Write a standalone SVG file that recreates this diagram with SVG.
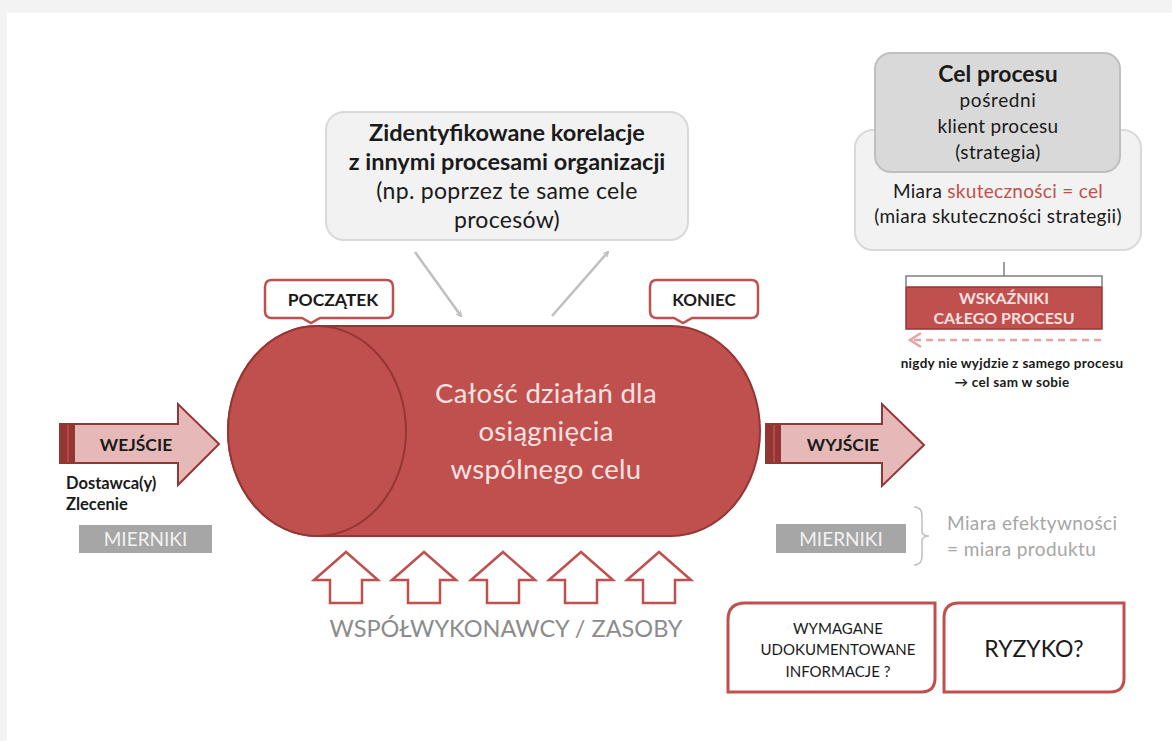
<svg xmlns="http://www.w3.org/2000/svg" width="1172" height="741" viewBox="0 0 1172 741">
<style>
text{font-family:Lato,"Open Sans","Liberation Sans",sans-serif}
.b{font-weight:bold}
.dark{fill:#1a1a1a}
.gbox{fill:#f2f2f2;stroke:#d9d9d9;stroke-width:2}
.call{fill:#fff;stroke:#c0504d;stroke-width:2.5}
.red3{fill:#fff;stroke:#c0504d;stroke-width:3}
.mier{fill:#a6a6a6}
.mtxt{fill:#f2f2f2;font-size:19px}
.grayline{stroke:#bfbfbf;stroke-width:2.5;fill:none}
.bigarrow{fill:#e6b9b8;stroke:#943634;stroke-width:2}
.uparrow{fill:#fff;stroke:#c0504d;stroke-width:2.5}
</style>
<defs>
<marker id="ga" viewBox="0 0 10 10" refX="8" refY="5" markerWidth="6" markerHeight="6" orient="auto" markerUnits="userSpaceOnUse">
<path d="M0,0 L9,5 L0,10" fill="none" stroke="#bfbfbf" stroke-width="2"/>
</marker>
</defs>
<rect x="0" y="0" width="1172" height="741" fill="#f3f3f3"/>
<rect x="7" y="13" width="1165" height="728" fill="#fff"/>

<g id="connectors">
<line class="grayline" x1="415" y1="252" x2="461" y2="316" marker-end="url(#ga)"/>
<line class="grayline" x1="552" y1="316" x2="608" y2="252" marker-end="url(#ga)"/>
<line x1="1004" y1="262" x2="1004" y2="276" stroke="#7f7f7f" stroke-width="1.5"/>
<path d="M906,286 L906,276 L1102,276 L1102,286" fill="none" stroke="#7f7f7f" stroke-width="1.5"/>
<line x1="1101" y1="340" x2="912" y2="340" stroke="#e6a3a1" stroke-width="2.5" stroke-dasharray="7,5"/>
<path d="M921,333 L910,340 L921,347" fill="none" stroke="#e6a3a1" stroke-width="2.5"/>
<path d="M914,507 Q922,507 922,516 L922,531 Q922,536 929,536 Q922,536 922,541 L922,556 Q922,565 914,565" fill="none" stroke="#bfbfbf" stroke-width="1.5"/>
</g>

<g id="korelacje">
<rect class="gbox" x="326" y="112" width="362" height="128" rx="18"/>
<text x="507" y="141" text-anchor="middle" class="b dark" font-size="23.5">Zidentyfikowane korelacje</text>
<text x="507" y="170" text-anchor="middle" class="b dark" font-size="23.5">z innymi procesami organizacji</text>
<text x="507" y="199" text-anchor="middle" class="dark" font-size="23" letter-spacing="0.3">(np. poprzez te same cele</text>
<text x="507" y="228" text-anchor="middle" class="dark" font-size="23" letter-spacing="0.3">procesów)</text>
</g>

<g id="cel">
<rect class="gbox" x="855" y="130" width="286" height="120" rx="18"/>
<rect x="875" y="53" width="245" height="119" rx="16" fill="#d9d9d9" stroke="#bfbfbf" stroke-width="2"/>
<text x="998" y="82" text-anchor="middle" class="b dark" font-size="23">Cel procesu</text>
<text x="998" y="107" text-anchor="middle" class="dark" font-size="19" letter-spacing="0.6">pośredni</text>
<text x="998" y="133" text-anchor="middle" class="dark" font-size="19" letter-spacing="0.3">klient procesu</text>
<text x="998" y="159" text-anchor="middle" class="dark" font-size="19" letter-spacing="0.4">(strategia)</text>
<text x="998" y="198" text-anchor="middle" font-size="19" letter-spacing="0.3"><tspan fill="#1a1a1a">Miara </tspan><tspan fill="#c0504d">skuteczności = cel</tspan></text>
<text x="998" y="223" text-anchor="middle" class="dark" font-size="19" letter-spacing="0.3">(miara skuteczności strategii)</text>
</g>

<g id="wskazniki">
<rect x="906" y="287" width="196" height="42" fill="#c0504d" stroke="#943634" stroke-width="1.5"/>
<text x="1004" y="304" text-anchor="middle" class="b" fill="#f8e0e0" font-size="16">WSKAŹNIKI</text>
<text x="1004" y="324" text-anchor="middle" class="b" fill="#f8e0e0" font-size="16">CAŁEGO PROCESU</text>
<text x="1012" y="368" text-anchor="middle" class="b dark" font-size="13.5" letter-spacing="0.3">nigdy nie wyjdzie z samego procesu</text>
<text x="1012" y="387" text-anchor="middle" class="b dark" font-size="13.5" letter-spacing="0.3">→ cel sam w sobie</text>
</g>

<g id="poczatek">
<path class="call" d="M272,280 L386,280 Q393,280 393,287 L393,311 Q393,318 386,318 L320,318 L311,323 L302,318 L272,318 Q265,318 265,311 L265,287 Q265,280 272,280 Z"/>
<text x="333" y="306" text-anchor="middle" class="b dark" font-size="17.5">POCZĄTEK</text>
</g>

<g id="koniec">
<path class="call" d="M657,280 L751,280 Q758,280 758,287 L758,311 Q758,318 751,318 L692,318 L683,323 L674,318 L657,318 Q650,318 650,311 L650,287 Q650,280 657,280 Z"/>
<text x="704" y="306" text-anchor="middle" class="b dark" font-size="17">KONIEC</text>
</g>

<g id="proces">
<path d="M317,326 L671,326 A89,105 0 0 1 671,536 L317,536 A89,105 0 0 1 317,326 Z" fill="#c0504d" stroke="#943634" stroke-width="2"/>
<ellipse cx="317" cy="431" rx="89" ry="105" fill="#c0504d" stroke="#943634" stroke-width="2"/>
<text x="546" y="403" text-anchor="middle" fill="#f9e2e2" font-size="27.5" letter-spacing="0.3">Całość działań dla</text>
<text x="546" y="441" text-anchor="middle" fill="#f9e2e2" font-size="27.5" letter-spacing="0.3">osiągnięcia</text>
<text x="546" y="479" text-anchor="middle" fill="#f9e2e2" font-size="27.5" letter-spacing="0.3">wspólnego celu</text>
</g>

<g id="wejscie">
<path class="bigarrow" d="M60,424 L178,424 L178,404 L219,444 L178,485 L178,463 L60,463 Z"/>
<rect x="60" y="424" width="15" height="39" fill="#943634"/>
<line x1="68" y1="425" x2="68" y2="462" stroke="#c0504d" stroke-width="1.5"/>
<text x="136" y="451" text-anchor="middle" class="b dark" font-size="17.5">WEJŚCIE</text>
<text x="66" y="489" class="b dark" font-size="16.5">Dostawca(y)</text>
<text x="66" y="510" class="b dark" font-size="16.5">Zlecenie</text>
<rect class="mier" x="79" y="525" width="133" height="28"/>
<text x="145.5" y="546" text-anchor="middle" class="mtxt">MIERNIKI</text>
</g>

<g id="wyjscie">
<path class="bigarrow" d="M766,424 L882,424 L882,404 L924,445 L882,486 L882,463 L766,463 Z"/>
<rect x="766" y="424" width="15" height="39" fill="#943634"/>
<line x1="774" y1="425" x2="774" y2="462" stroke="#c0504d" stroke-width="1.5"/>
<text x="843" y="451" text-anchor="middle" class="b dark" font-size="17.5">WYJŚCIE</text>
<rect class="mier" x="776" y="524" width="130" height="29"/>
<text x="841" y="546" text-anchor="middle" class="mtxt">MIERNIKI</text>
<text x="947" y="530" fill="#a6a6a6" font-size="19" letter-spacing="0.4">Miara efektywności</text>
<text x="947" y="556" fill="#a6a6a6" font-size="19" letter-spacing="0.4">= miara produktu</text>
</g>

<g id="zasoby">
<path class="uparrow" d="M314,580 L346,552 L378,580 L362,580 L362,603 L330,603 L330,580 Z"/>
<path class="uparrow" d="M392,580 L424,552 L456,580 L440,580 L440,603 L408,603 L408,580 Z"/>
<path class="uparrow" d="M471,580 L503,552 L535,580 L519,580 L519,603 L487,603 L487,580 Z"/>
<path class="uparrow" d="M549,580 L581,552 L613,580 L597,580 L597,603 L565,603 L565,580 Z"/>
<path class="uparrow" d="M627,580 L659,552 L691,580 L675,580 L675,603 L643,603 L643,580 Z"/>
<text x="506" y="637" text-anchor="middle" fill="#8c8c8c" font-size="23.5">WSPÓŁWYKONAWCY / ZASOBY</text>
</g>

<g id="wymagane">
<path class="red3" d="M745,603 L935,603 L935,678 Q935,692 921,692 L728,692 L728,620 Q728,603 745,603 Z"/>
<text x="838" y="634" text-anchor="middle" class="dark" font-size="15">WYMAGANE</text>
<text x="838" y="655" text-anchor="middle" class="dark" font-size="15">UDOKUMENTOWANE</text>
<text x="838" y="677" text-anchor="middle" class="dark" font-size="15">INFORMACJE ?</text>
</g>

<g id="ryzyko">
<path class="red3" d="M959,603 L1124,603 L1124,678 Q1124,692 1110,692 L944,692 L944,618 Q944,603 959,603 Z"/>
<text x="1034" y="657" text-anchor="middle" class="dark" font-size="23">RYZYKO?</text>
</g>
</svg>
